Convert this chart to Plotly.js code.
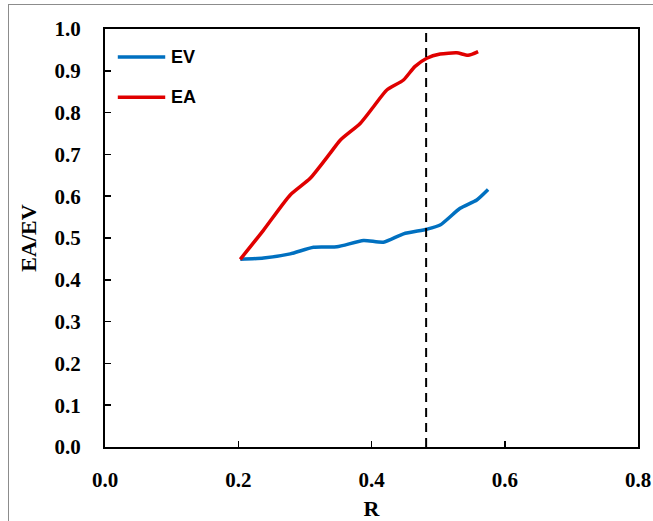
<!DOCTYPE html>
<html>
<head>
<meta charset="utf-8">
<script src="https://cdn.plot.ly/plotly-3.0.1.min.js"></script>
<style>
html,body{margin:0;padding:0;background:#fff;}
#wrap{position:relative;width:653px;height:521px;}
#frame{position:absolute;left:8px;top:4px;right:0;bottom:0;border-top:1px solid #8c8c8c;border-left:1px solid #8c8c8c;pointer-events:none;}
</style>
</head>
<body>
<div id="wrap"><div id="chart" style="width:653px;height:521px;"></div><div id="frame"></div></div>
<script>
const evR  = [0.203, 0.238, 0.278, 0.313, 0.348, 0.388, 0.418, 0.448, 0.483, 0.503, 0.533, 0.558, 0.575];
const evY  = [0.449, 0.452, 0.462, 0.478, 0.479, 0.494, 0.490, 0.510, 0.521, 0.531, 0.571, 0.591, 0.616];
const eaR  = [0.203, 0.238, 0.278, 0.308, 0.338, 0.353, 0.383, 0.403, 0.423, 0.448, 0.465, 0.483, 0.503, 0.528, 0.545, 0.560];
const eaY  = [0.449, 0.519, 0.603, 0.643, 0.703, 0.734, 0.774, 0.814, 0.854, 0.878, 0.910, 0.930, 0.940, 0.943, 0.937, 0.946];
const thresholdR = 0.482;
const xTicks = [0.0, 0.2, 0.4, 0.6, 0.8];
const yTicks = [0.0, 0.1, 0.2, 0.3, 0.4, 0.5, 0.6, 0.7, 0.8, 0.9, 1.0];
const seriesNames = ['EV', 'EA'];
const seriesColors = ['#0070C0', '#E00000'];

const serif = {family: 'Liberation Serif, Times New Roman, serif', size: 21, color: '#000', weight: 'bold'};

const traces = [
  {x: evR, y: evY, name: seriesNames[0], mode: 'lines', line: {color: seriesColors[0], width: 3.5, shape: 'spline', smoothing: 0.6}},
  {x: eaR, y: eaY, name: seriesNames[1], mode: 'lines', line: {color: seriesColors[1], width: 3.5, shape: 'spline', smoothing: 0.6}}
];

// hand-placed legend (longer line samples, as in the reference)
const legY = [0.933, 0.837];
const shapes = [{type: 'line', xref: 'x', yref: 'y', x0: thresholdR, x1: thresholdR, y0: 0, y1: 1,
                 line: {color: '#000', width: 2, dash: '9px,6px'}}];
const annotations = [];
seriesNames.forEach((n, i) => {
  shapes.push({type: 'line', xref: 'paper', yref: 'paper', x0: 0.024, x1: 0.113, y0: legY[i], y1: legY[i],
               line: {color: seriesColors[i], width: 3.5}});
  annotations.push({xref: 'paper', yref: 'paper', x: 0.121, y: legY[i], xanchor: 'left', yanchor: 'middle',
                    text: n, showarrow: false,
                    font: {family: 'Liberation Sans, Arial, sans-serif', size: 18, color: '#000', weight: 'bold'}});
});

const layout = {
  width: 653, height: 521,
  margin: {l: 105, r: 15, t: 29, b: 74},
  paper_bgcolor: '#fff', plot_bgcolor: '#fff',
  showlegend: false,
  xaxis: {range: [0, 0.8], tickvals: xTicks, ticktext: xTicks.map(v => v.toFixed(1)),
          ticks: 'inside', ticklen: 6, tickwidth: 1.5, tickcolor: '#000',
          showline: true, linecolor: '#000', linewidth: 2, mirror: true, showgrid: false, zeroline: false,
          tickfont: serif, ticklabelstandoff: 13,
          title: {text: 'R', font: Object.assign({}, serif, {size: 22}), standoff: 16}},
  yaxis: {range: [0, 1.0], tickvals: yTicks, ticktext: yTicks.map(v => v.toFixed(1)),
          ticks: 'inside', ticklen: 6, tickwidth: 1.5, tickcolor: '#000',
          showline: true, linecolor: '#000', linewidth: 2, mirror: true, showgrid: false, zeroline: false,
          tickfont: serif, ticklabelstandoff: 18,
          title: {text: 'EA/EV', font: Object.assign({}, serif, {size: 22}), standoff: 12}},
  shapes: shapes,
  annotations: annotations
};

Plotly.newPlot('chart', traces, layout, {displayModeBar: false, staticPlot: true});
</script>
</body>
</html>
